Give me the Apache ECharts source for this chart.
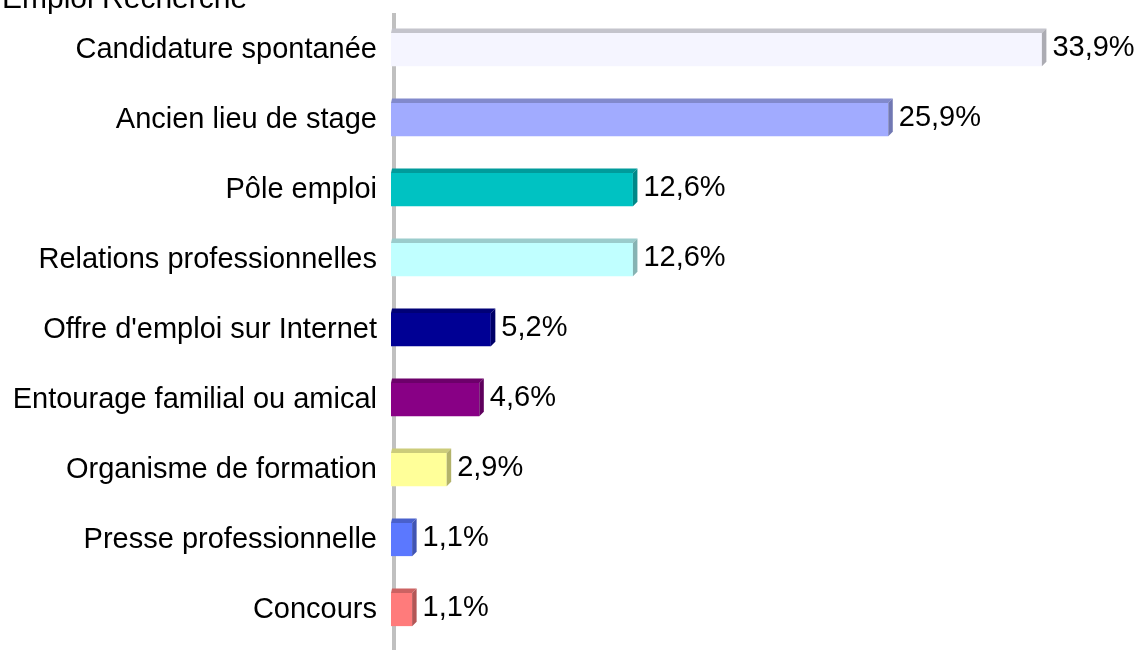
<!DOCTYPE html>
<html>
<head>
<meta charset="utf-8">
<script src="https://cdn.jsdelivr.net/npm/echarts@6/dist/echarts.min.js"></script>
<style>
html,body{margin:0;padding:0;background:#fff;}
#c{width:1138px;height:650px;}
</style>
</head>
<body>
<div id="c"></div>
<script>
const titleText = 'Emploi Recherché';
const categories = [
  'Candidature spontanée',
  'Ancien lieu de stage',
  'Pôle emploi',
  'Relations professionnelles',
  "Offre d'emploi sur Internet",
  'Entourage familial ou amical',
  'Organisme de formation',
  'Presse professionnelle',
  'Concours'
];
const values = [33.9, 25.9, 12.6, 12.6, 5.2, 4.6, 2.9, 1.1, 1.1];
const barColors = ['#f5f5ff', '#a1abff', '#00c2c2', '#c0ffff', '#000094', '#880085', '#ffff99', '#5b78ff', '#ff7b7b'];

function shade(hex, f) {
  const n = parseInt(hex.slice(1), 16);
  const r = Math.round(((n >> 16) & 255) * f);
  const g = Math.round(((n >> 8) & 255) * f);
  const b = Math.round((n & 255) * f);
  return 'rgb(' + r + ',' + g + ',' + b + ')';
}

const FONT = '"Liberation Sans", Arial, sans-serif';
const chart = echarts.init(document.getElementById('c'), null, {renderer: 'canvas'});

const data = values.map((v, i) => [i, v]);

chart.setOption({
  animation: false,
  backgroundColor: '#ffffff',
  title: {
    text: titleText,
    left: 2,
    top: -15,
    padding: 0,
    textStyle: {fontFamily: FONT, fontSize: 30, fontWeight: 'normal', color: '#000'}
  },
  graphic: [{
    type: 'rect',
    z: 0,
    shape: {x: 392, y: 13, width: 4, height: 640},
    style: {fill: '#c0c0c0'}
  }],
  grid: {left: 391, right: 75, top: 14.5, bottom: 5.5, containLabel: false},
  xAxis: {
    type: 'value', min: 0, max: 35, show: false
  },
  yAxis: {
    type: 'category',
    data: categories,
    inverse: true,
    axisLine: {show: false},
    axisTick: {show: false},
    splitLine: {show: false},
    axisLabel: {
      margin: 14,
      fontFamily: FONT, fontSize: 29, color: '#000'
    }
  },
  series: [{
    type: 'custom',
    z: 5,
    encode: {x: 1, y: 0},
    data: data,
    renderItem: function (params, api) {
      const idx = api.value(0);
      const val = api.value(1);
      const p0 = api.coord([0, idx]);
      const p1 = api.coord([val, idx]);
      const band = api.size([0, 1])[1];
      const h = band * 0.475;
      const d = 4.5;
      const x0 = p0[0], x1 = p1[0], yc = p0[1];
      const yT = yc - h / 2, yB = yc + h / 2;
      const c = barColors[idx];
      return {
        type: 'group',
        children: [
          {type: 'rect', shape: {x: x0, y: yT, width: x1 - x0, height: h}, style: {fill: c}},
          {type: 'polygon', shape: {points: [[x0, yT], [x0 + 1, yT - d], [x1 + d, yT - d], [x1, yT]]}, style: {fill: shade(c, 0.8)}},
          {type: 'polygon', shape: {points: [[x1, yT], [x1 + d, yT - d], [x1 + d, yB - d], [x1, yB]]}, style: {fill: shade(c, 0.7)}},
          {type: 'text', x: x1 + d + 6, y: yc - 1.5,
            style: {text: val.toFixed(1).replace('.', ',') + '%', fontFamily: FONT, fontSize: 29, fill: '#000', verticalAlign: 'middle', align: 'left'}}
        ]
      };
    }
  }]
});
</script>
</body>
</html>
